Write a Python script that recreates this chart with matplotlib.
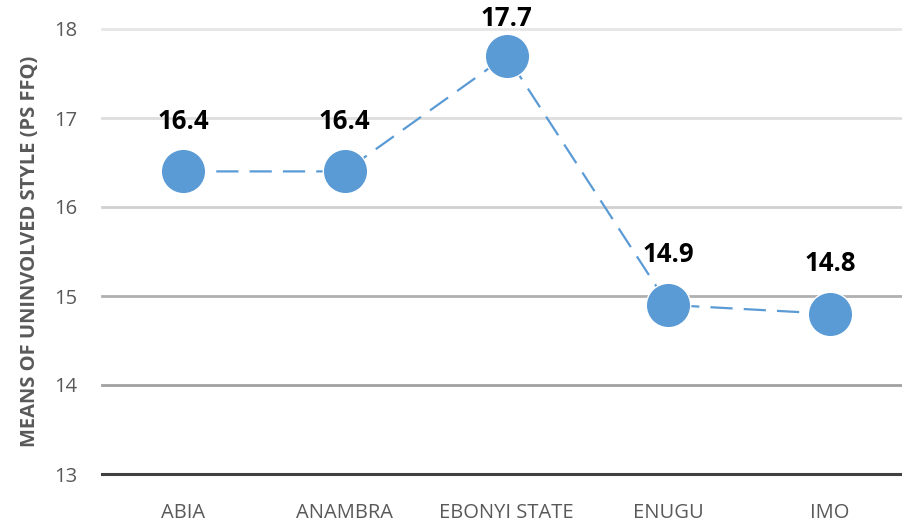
import matplotlib.pyplot as plt

# data
states = ['ABIA', 'ANAMBRA', 'EBONYI STATE', 'ENUGU', 'IMO']
means = [16.4, 16.4, 17.7, 14.9, 14.8]
yticks = [13, 14, 15, 16, 17, 18]

blue = '#5B9BD5'
grid_colors = ['#404040', '#a0a0a0', '#b0b0b0', '#d0d0d0', '#dedede', '#e6e6e6']

fig = plt.figure(figsize=(9.03, 5.23), dpi=100)
ax = fig.add_axes([102 / 903, 49 / 523, 1 - 102 / 903, 445 / 523])

# gridlines with varying shades
for yv, c in zip(yticks, grid_colors):
    ax.axhline(yv, color=c, linewidth=2.2 if yv == 13 else 2.0, zorder=1, clip_on=False)

x = range(len(states))
ax.plot(x, means, color=blue, linewidth=1.6, dashes=(10, 5), marker='o',
        markersize=32, markerfacecolor=blue, markeredgecolor='white',
        markeredgewidth=1.0, zorder=3, clip_on=False)

# data labels
for i, v in enumerate(means):
    off = 27 if v == max(means) else 36
    ax.annotate(f'{v:.1f}', (i, v), xytext=(0, off), textcoords='offset points',
                ha='center', va='center', fontsize=18.5, fontweight='bold',
                family='Open Sans', color='black', annotation_clip=False)

ax.set_xlim(-0.5, 4.45)
ax.set_ylim(13, 18)
ax.set_xticks(list(x))
ax.set_xticklabels(states)
ax.set_yticks(yticks)
for s in ax.spines.values():
    s.set_visible(False)
ax.tick_params(axis='both', length=0, labelsize=14.5, labelcolor='#595959')
ax.tick_params(axis='y', pad=18)
ax.tick_params(axis='x', pad=21)
for lab in ax.get_xticklabels() + ax.get_yticklabels():
    lab.set_family('Open Sans')
ax.set_ylabel('MEANS OF UNINVOLVED STYLE (PS FFQ)', fontsize=14.5, fontweight='bold',
              color='#595959', family='Open Sans', labelpad=10)

fig.savefig('out.png', dpi=100)
